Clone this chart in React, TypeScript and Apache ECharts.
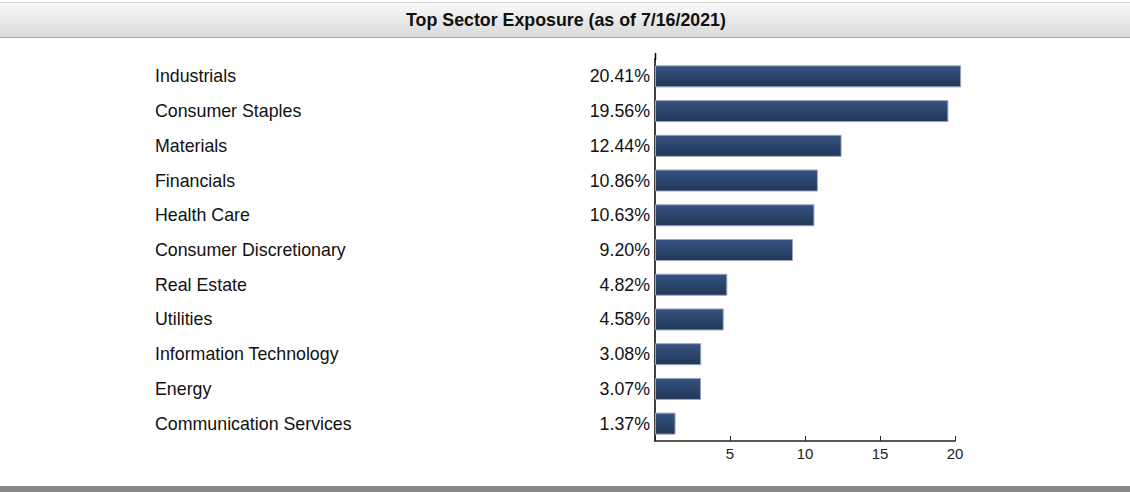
import React, { useEffect, useRef } from "react";
import * as echarts from "echarts";

const categories = [
  "Industrials",
  "Consumer Staples",
  "Materials",
  "Financials",
  "Health Care",
  "Consumer Discretionary",
  "Real Estate",
  "Utilities",
  "Information Technology",
  "Energy",
  "Communication Services",
];
const values = [20.41, 19.56, 12.44, 10.86, 10.63, 9.2, 4.82, 4.58, 3.08, 3.07, 1.37];
const xTicks = [0, 5, 10, 15, 20];
const title = "Top Sector Exposure (as of 7/16/2021)";

export default function App() {
  const ref = useRef<HTMLDivElement>(null);
  useEffect(() => {
    if (!ref.current) return;
    const chart = echarts.init(ref.current, undefined, { renderer: "svg" });
    const font = "Arial, 'Liberation Sans', sans-serif";
    chart.setOption({
      animation: false,
      textStyle: { fontFamily: font },
      graphic: [
        {
          type: "rect",
          shape: { x: 0, y: 2, width: 1130, height: 35 },
          style: {
            fill: new echarts.graphic.LinearGradient(0, 0, 0, 1, [
              { offset: 0, color: "#fafafa" },
              { offset: 1, color: "#d9d9d9" },
            ]),
          },
          z: 0,
        },
        { type: "line", shape: { x1: 0, y1: 2.5, x2: 1130, y2: 2.5 }, style: { stroke: "#d0d0d0", lineWidth: 1 } },
        { type: "line", shape: { x1: 0, y1: 37.5, x2: 1130, y2: 37.5 }, style: { stroke: "#a8a8a8", lineWidth: 1 } },
        {
          type: "text",
          x: 566,
          y: 20,
          style: {
            text: title,
            fill: "#111",
            font: `bold 17.8px ${font}`,
            textAlign: "center",
            textVerticalAlign: "middle",
          },
        },
        { type: "rect", shape: { x: 0, y: 486, width: 1130, height: 6 }, style: { fill: "#888888" } },
        { type: "line", shape: { x1: 655.5, y1: 53, x2: 655.5, y2: 60 }, style: { stroke: "#000", lineWidth: 1.5 } },
      ],
      grid: { left: 655, top: 59, width: 300, height: 382, containLabel: false },
      xAxis: {
        type: "value",
        min: 0,
        max: 20,
        interval: 5,
        axisLine: { show: true, lineStyle: { color: "#222", width: 1.5 } },
        axisTick: { show: true, inside: true, length: 5, lineStyle: { color: "#222" } },
        splitLine: { show: false },
        axisLabel: {
          color: "#222",
          fontSize: 15,
          margin: 5,
          formatter: (v: number) => (xTicks.includes(v) && v !== 0 ? String(v) : ""),
        },
      },
      yAxis: [
        {
          type: "category",
          inverse: true,
          data: categories,
          axisLine: { show: true, lineStyle: { color: "#000", width: 1.5 } },
          axisTick: { show: false },
          axisLabel: { color: "#111", fontSize: 17.8, align: "left", margin: 500, padding: [5, 0, 0, 0] },
        },
        {
          type: "category",
          inverse: true,
          position: "left",
          data: values.map((v) => v.toFixed(2) + "%"),
          axisLine: { show: false },
          axisTick: { show: false },
          axisLabel: { color: "#111", fontSize: 17.8, align: "right", margin: 5, padding: [5, 0, 0, 0] },
        },
      ],
      series: [
        {
          type: "bar",
          data: values,
          barWidth: 22,
          clip: false,
          itemStyle: {
            color: new echarts.graphic.LinearGradient(0, 0, 0, 1, [
              { offset: 0, color: "#36547f" },
              { offset: 1, color: "#213659" },
            ]),
            borderColor: "#9aa6bd",
            borderWidth: 1,
          },
        },
      ],
    });
    return () => chart.dispose();
  }, []);
  return (
    <div
      ref={ref}
      style={{ position: "absolute", left: 0, top: 0, width: 1130, height: 492, background: "#fff" }}
    />
  );
}
